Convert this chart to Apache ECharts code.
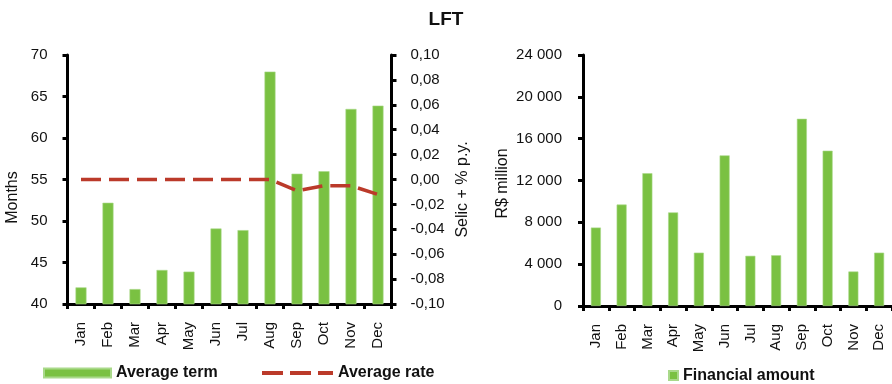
<!DOCTYPE html>
<html>
<head>
<meta charset="utf-8">
<script src="https://cdn.jsdelivr.net/npm/echarts@6/dist/echarts.min.js"></script>
<style>
  html, body { margin: 0; padding: 0; background: #fff; }
  #chart { width: 892px; height: 384px; }
</style>
</head>
<body>
<div id="chart"></div>
<script>
// Monthly LFT issuance figures
const months = ['Jan', 'Feb', 'Mar', 'Apr', 'May', 'Jun', 'Jul', 'Aug', 'Sep', 'Oct', 'Nov', 'Dec'];
const averageTerm = [42.0, 52.2, 41.8, 44.1, 43.9, 49.1, 48.9, 68.0, 55.7, 56.0, 63.5, 63.9];   // months
const averageRate = [0, 0, 0, 0, 0, 0, 0, 0, -0.009, -0.005, -0.005, -0.012];                   // Selic + % p.y.
const financialAmount = [7500, 9700, 12700, 8950, 5100, 14400, 4800, 4850, 17900, 14850, 3300, 5100]; // R$ million

const termTicks = { min: 40, max: 70, interval: 5 };
const rateTicks = { min: -0.1, max: 0.1, interval: 0.02 };
const amountTicks = { min: 0, max: 24000, interval: 4000 };

const FONT = 'Liberation Sans, Arial, sans-serif';
const GREEN = '#7ac142';
const RED = '#bb3a2a';

const axisLine = { show: true, onZero: false, lineStyle: { color: '#000', width: 3 } };
const axisTick = { show: true, inside: false, length: 5, lineStyle: { color: '#000', width: 3 } };
const tickLabel = { color: '#111', fontFamily: FONT, fontSize: 15 };
const nameStyle = { color: '#111', fontFamily: FONT, fontSize: 16 };
const legendText = { fontFamily: FONT, fontSize: 16, fontWeight: 'bold', color: '#111' };

// dashed stroke used as the legend icon of the rate line
const dashIcon = 'path://M0,0H21V4H0Z M28,0H49V4H28Z M56,0H71V4H56Z';

function commaDecimal(v) {
  const s = Math.abs(v).toFixed(2).replace('.', ',');
  return (v < -1e-9 ? '-' : '') + s;
}
function spaced(v) {
  return String(v).replace(/\B(?=(\d{3})+(?!\d))/g, ' ');
}

const chart = echarts.init(document.getElementById('chart'), null, { renderer: 'canvas' });

const monthAxis = (gridIndex) => ({
  type: 'category',
  gridIndex,
  data: months,
  boundaryGap: true,
  axisLine,
  axisTick: Object.assign({}, axisTick, { alignWithLabel: false }),
  axisLabel: { color: '#111', fontFamily: FONT, fontSize: 15, rotate: 90, margin: 18, interval: 0 },
  splitLine: { show: false }
});

chart.setOption({
  animation: false,
  backgroundColor: '#fff',
  title: {
    text: 'LFT',
    left: 'center',
    top: 5,
    textStyle: { fontFamily: FONT, fontSize: 19, fontWeight: 'bold', color: '#111' }
  },
  grid: [
    { left: 67.5, top: 55, width: 324, height: 249 },
    { left: 583, top: 55, width: 311, height: 251 }
  ],
  xAxis: [monthAxis(0), monthAxis(1)],
  yAxis: [
    {
      type: 'value', gridIndex: 0, position: 'left',
      min: termTicks.min, max: termTicks.max, interval: termTicks.interval,
      name: 'Months', nameLocation: 'middle', nameRotate: 90, nameGap: 47,
      nameTextStyle: Object.assign({}, nameStyle, { padding: [0, 36, 0, 0] }),
      axisLine, axisTick, axisLabel: Object.assign({}, tickLabel, { margin: 20 }),
      splitLine: { show: false }
    },
    {
      type: 'value', gridIndex: 0, position: 'right',
      min: rateTicks.min, max: rateTicks.max, interval: rateTicks.interval,
      name: 'Selic + % p.y.', nameLocation: 'middle', nameRotate: 90, nameGap: 63,
      nameTextStyle: Object.assign({}, nameStyle, { padding: [0, 20, 0, 0] }),
      axisLine, axisTick, axisLabel: Object.assign({}, tickLabel, { margin: 19, formatter: commaDecimal }),
      splitLine: { show: false }
    },
    {
      type: 'value', gridIndex: 1, position: 'left',
      min: amountTicks.min, max: amountTicks.max, interval: amountTicks.interval,
      name: 'R$ million', nameLocation: 'middle', nameRotate: 90, nameGap: 72,
      nameTextStyle: Object.assign({}, nameStyle, { padding: [0, 6, 0, 0] }),
      axisLine, axisTick, axisLabel: Object.assign({}, tickLabel, { margin: 21, formatter: spaced }),
      splitLine: { show: false }
    }
  ],
  legend: [
    {
      data: [{ name: 'Average term', icon: 'rect' }], left: 43, top: 365, padding: 0,
      itemWidth: 67, itemHeight: 9, textStyle: legendText
    },
    {
      data: [{ name: 'Average rate', icon: dashIcon }], left: 262, top: 365, padding: 0,
      itemWidth: 71, itemHeight: 4, textStyle: legendText
    },
    {
      data: [{ name: 'Financial amount', icon: 'rect' }], left: 668, top: 367.5, padding: 0,
      itemWidth: 9, itemHeight: 9, textStyle: legendText
    }
  ],
  series: [
    {
      name: 'Average term', type: 'bar', xAxisIndex: 0, yAxisIndex: 0,
      data: averageTerm, barWidth: 11,
      itemStyle: { color: GREEN, borderColor: '#a9d98a', borderWidth: 0.6 }
    },
    {
      name: 'Average rate', type: 'line', xAxisIndex: 0, yAxisIndex: 1,
      data: averageRate, symbol: 'none', z: 5,
      lineStyle: { color: RED, width: 3.5, type: [20, 8] },
      itemStyle: { color: RED, borderWidth: 0 }
    },
    {
      name: 'Financial amount', type: 'bar', xAxisIndex: 1, yAxisIndex: 2,
      data: financialAmount, barWidth: 10,
      itemStyle: { color: GREEN, borderColor: '#a9d98a', borderWidth: 0.6 }
    }
  ]
});
</script>
</body>
</html>
